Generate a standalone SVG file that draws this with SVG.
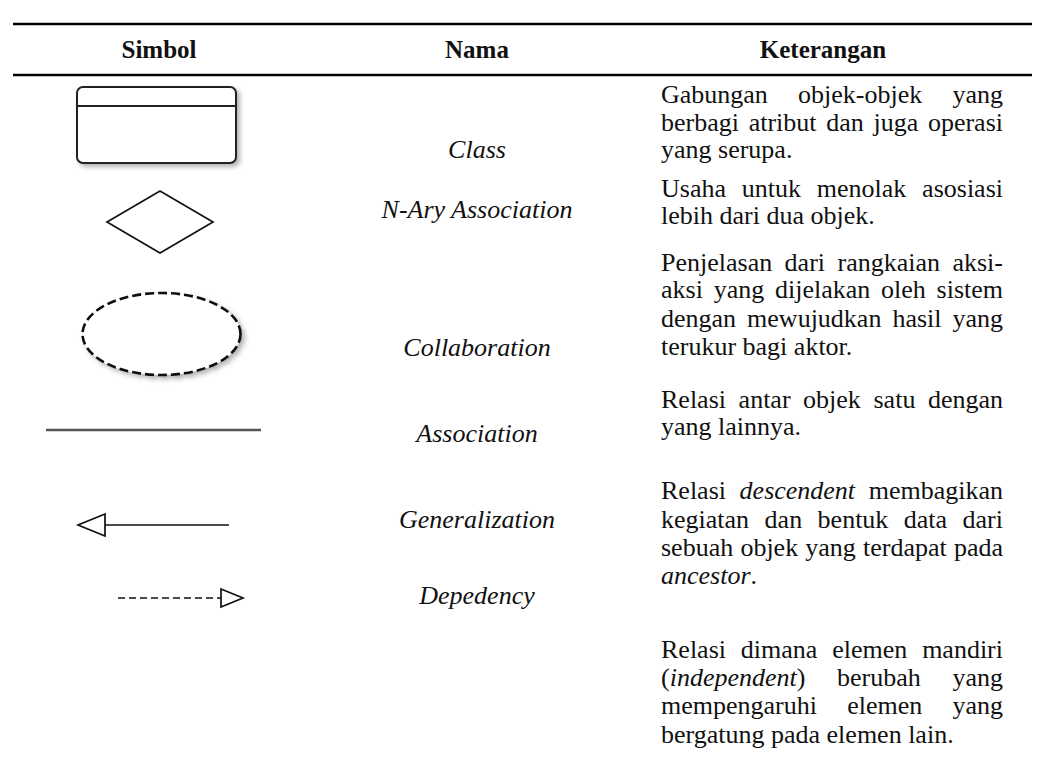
<svg xmlns="http://www.w3.org/2000/svg" width="1045" height="763" viewBox="0 0 1045 763">
  <defs>
    <style>
      .t { font-family: "Liberation Serif", "Times New Roman", Times, serif; font-size: 26px; fill: #111; }
      .hd { font-weight: bold; text-anchor: middle; font-size: 25px; }
      .nm { font-style: italic; text-anchor: middle; }
      .it { font-style: italic; }
      .e { text-anchor: end; }
      .rule { stroke: #000; stroke-width: 2.5; }
      .sym { fill: none; stroke: #111; stroke-width: 1.7; }
    </style>
    <filter id="soft-shadow" x="-10%" y="-15%" width="125%" height="140%">
      <feDropShadow dx="3" dy="3" stdDeviation="2.5" flood-color="#000" flood-opacity="0.3"/>
    </filter>
  </defs>

  <rect width="1045" height="763" fill="#fff"/>

  <!-- table rules and header -->
  <g id="table-header">
    <line class="rule" x1="13" y1="24" x2="1032" y2="24"/>
    <line class="rule" x1="13" y1="75" x2="1032" y2="75"/>
    <text class="t hd" x="159" y="58">Simbol</text>
    <text class="t hd" x="477" y="58">Nama</text>
    <text class="t hd" x="823" y="58">Keterangan</text>
  </g>

  <!-- Class -->
  <g id="row-class">
    <g filter="url(#soft-shadow)">
      <rect x="77" y="87" width="159" height="76" rx="6" fill="#fff" stroke="#222" stroke-width="2"/>
      <line x1="77" y1="106" x2="236" y2="106" stroke="#222" stroke-width="2"/>
    </g>
    <text class="t nm" x="477" y="158">Class</text>
    <text class="t" y="103"><tspan x="661">Gabungan</tspan><tspan x="798.1">objek-objek</tspan></text>
    <text class="t e" x="1003" y="103">yang</text>
    <text class="t" y="131"><tspan x="661">berbagi</tspan><tspan x="748.7">atribut</tspan><tspan x="826.2">dan</tspan><tspan x="873.5">juga</tspan></text>
    <text class="t e" x="1003" y="131">operasi</text>
    <text class="t" x="661" y="158">yang serupa.</text>
  </g>

  <!-- N-Ary Association -->
  <g id="row-nary">
    <polygon class="sym" points="160,191 213,222 160,253 107,222"/>
    <text class="t nm" x="477" y="218">N-Ary Association</text>
    <text class="t" y="197"><tspan x="661">Usaha</tspan><tspan x="741.8">untuk</tspan><tspan x="816.8">menolak</tspan></text>
    <text class="t e" x="1003" y="197">asosiasi</text>
    <text class="t" x="661" y="224">lebih dari dua objek.</text>
  </g>

  <!-- Collaboration -->
  <g id="row-collaboration">
    <ellipse cx="161.5" cy="334" rx="79" ry="41" fill="#fff" stroke="#111" stroke-width="2.6" stroke-dasharray="9 4" filter="url(#soft-shadow)"/>
    <text class="t nm" x="477" y="356">Collaboration</text>
    <text class="t" y="271"><tspan x="661">Penjelasan</tspan><tspan x="784.6">dari</tspan><tspan x="837.5">rangkaian</tspan></text>
    <text class="t e" x="1003" y="271">aksi-</text>
    <text class="t" y="298"><tspan x="661">aksi</tspan><tspan x="713.7">yang</tspan><tspan x="775">dijelakan</tspan><tspan x="881">oleh</tspan></text>
    <text class="t e" x="1003" y="298">sistem</text>
    <text class="t" y="327"><tspan x="661">dengan</tspan><tspan x="747.1">mewujudkan</tspan><tspan x="892.4">hasil</tspan></text>
    <text class="t e" x="1003" y="327">yang</text>
    <text class="t" x="661" y="355">terukur bagi aktor.</text>
  </g>

  <!-- Association -->
  <g id="row-association">
    <line x1="46" y1="430" x2="261" y2="430" stroke="#555" stroke-width="2.4"/>
    <text class="t nm" x="477" y="442">Association</text>
    <text class="t" y="408"><tspan x="661">Relasi</tspan><tspan x="738.6">antar</tspan><tspan x="803.1">objek</tspan><tspan x="873.5">satu</tspan></text>
    <text class="t e" x="1003" y="408">dengan</text>
    <text class="t" x="661" y="435">yang lainnya.</text>
  </g>

  <!-- Generalization -->
  <g id="row-generalization">
    <line class="sym" x1="105" y1="525" x2="229" y2="525"/>
    <polygon class="sym" points="105,514 78,525 105,536" fill="#fff"/>
    <text class="t nm" x="477" y="528">Generalization</text>
    <text class="t" y="499"><tspan x="661">Relasi</tspan><tspan x="739.6" class="it">descendent</tspan></text>
    <text class="t e" x="1003" y="499">membagikan</text>
    <text class="t" y="528"><tspan x="661">kegiatan</tspan><tspan x="764.6">dan</tspan><tspan x="817.6">bentuk</tspan><tspan x="903.8">data</tspan></text>
    <text class="t e" x="1003" y="528">dari</text>
    <text class="t" y="556"><tspan x="661">sebuah</tspan><tspan x="740.4">objek</tspan><tspan x="805.3">yang</tspan><tspan x="863">terdapat</tspan></text>
    <text class="t e" x="1003" y="556">pada</text>
    <text class="t" x="661" y="584"><tspan class="it">ancestor</tspan>.</text>
  </g>

  <!-- Dependency -->
  <g id="row-dependency">
    <line class="sym" x1="118" y1="598" x2="221" y2="598" stroke-dasharray="7 4"/>
    <polygon class="sym" points="221,589 243,598 221,607" fill="#fff"/>
    <text class="t nm" x="477" y="604">Depedency</text>
    <text class="t" y="658"><tspan x="661">Relasi</tspan><tspan x="740.8">dimana</tspan><tspan x="832.2">elemen</tspan></text>
    <text class="t e" x="1003" y="658">mandiri</text>
    <text class="t" y="686"><tspan x="661">(</tspan><tspan class="it">independent</tspan><tspan>)</tspan><tspan x="837">berubah</tspan></text>
    <text class="t e" x="1003" y="686">yang</text>
    <text class="t" y="714"><tspan x="661">mempengaruhi</tspan><tspan x="847.2">elemen</tspan></text>
    <text class="t e" x="1003" y="714">yang</text>
    <text class="t" x="661" y="743">bergatung pada elemen lain.</text>
  </g>

  <!-- connectors: none between nodes in this table -->
  <g id="connectors"/>
</svg>
